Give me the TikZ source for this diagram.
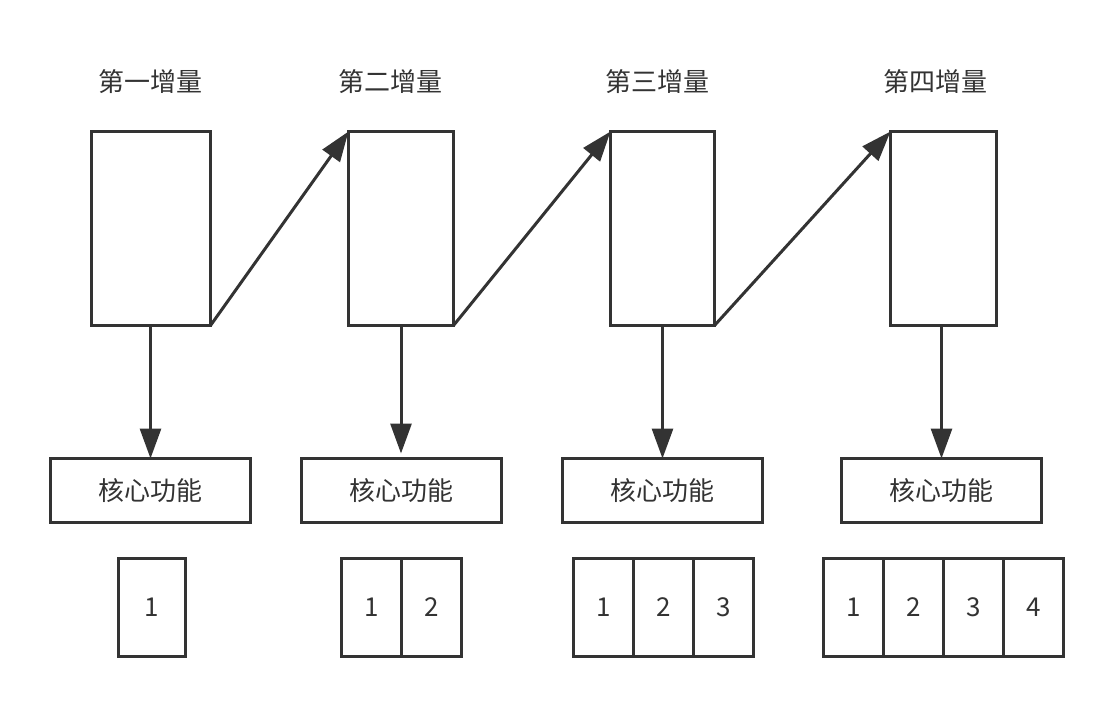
\documentclass[tikz,border=0pt]{standalone}
\usepackage{fontspec}
\setmainfont{Noto Sans CJK SC}
\usetikzlibrary{arrows.meta,positioning}
\definecolor{ink}{HTML}{333333}
\tikzset{
  box/.style={draw=ink, line width=3pt, inner sep=0pt, outer sep=0pt},
  incbox/.style={box, minimum height=194pt},
  corebox/.style={box, minimum width=200pt, minimum height=64pt},
  cell/.style={box, minimum width=60pt, minimum height=98pt},
  flow/.style={draw=ink, line width=3pt, -{Triangle[length=30pt,width=21pt]}}
}
\begin{document}
\begin{tikzpicture}
        [x=1pt,y=-1pt,font=\fontsize{26}{30}\selectfont,text=ink]
        \useasboundingbox (0,0) rectangle (1111,708);

        % increments
        \node[incbox, minimum width=119pt] (inc1) at (151,228.5) {};
        \node[incbox, minimum width=105pt] (inc2) at (401,228.5) {};
        \node[incbox, minimum width=104pt] (inc3) at (662.5,228.5) {};
        \node[incbox, minimum width=106pt] (inc4) at (943.5,228.5) {};

        \node (title1) at (150,82) {第一增量};
        \node (title2) at (390,82) {第二增量};
        \node (title3) at (657,82) {第三增量};
        \node (title4) at (935,82) {第四增量};

        % core functions
        \node[corebox] (core1) at (150.5,490.5) {核心功能};
        \node[corebox] (core2) at (401,490.5) {核心功能};
        \node[corebox] (core3) at (662.5,490.5) {核心功能};
        \node[corebox] (core4) at (941.5,490.5) {核心功能};

        \draw[flow] (inc1.south east) -- (inc2.north west);
        \draw[flow] (inc2.south east) -- (inc3.north west);
        \draw[flow] (inc3.south east) -- (inc4.north west);

        \draw[flow] (inc1.south -| core1.north) -- (core1.north);
        \draw[flow, shorten >=5pt] (inc2.south -| core2.north) -- (core2.north);
        \draw[flow] (inc3.south -| core3.north) -- (core3.north);
        \draw[flow] (inc4.south -| core4.north) -- (core4.north);

        % delivered parts
        \node[cell, minimum width=67pt] (partA1) at (152,607.5) {1};

        \node[cell] (partB1) at (371.5,607.5) {1};
        \node[cell, right=0pt of partB1] (partB2) {2};

        \node[cell] (partC1) at (603.5,607.5) {1};
        \node[cell, right=0pt of partC1] (partC2) {2};
        \node[cell, right=0pt of partC2] (partC3) {3};

        \node[cell] (partD1) at (853.5,607.5) {1};
        \node[cell, right=0pt of partD1] (partD2) {2};
        \node[cell, right=0pt of partD2] (partD3) {3};
        \node[cell, right=0pt of partD3] (partD4) {4};
      \end{tikzpicture}
\end{document}
